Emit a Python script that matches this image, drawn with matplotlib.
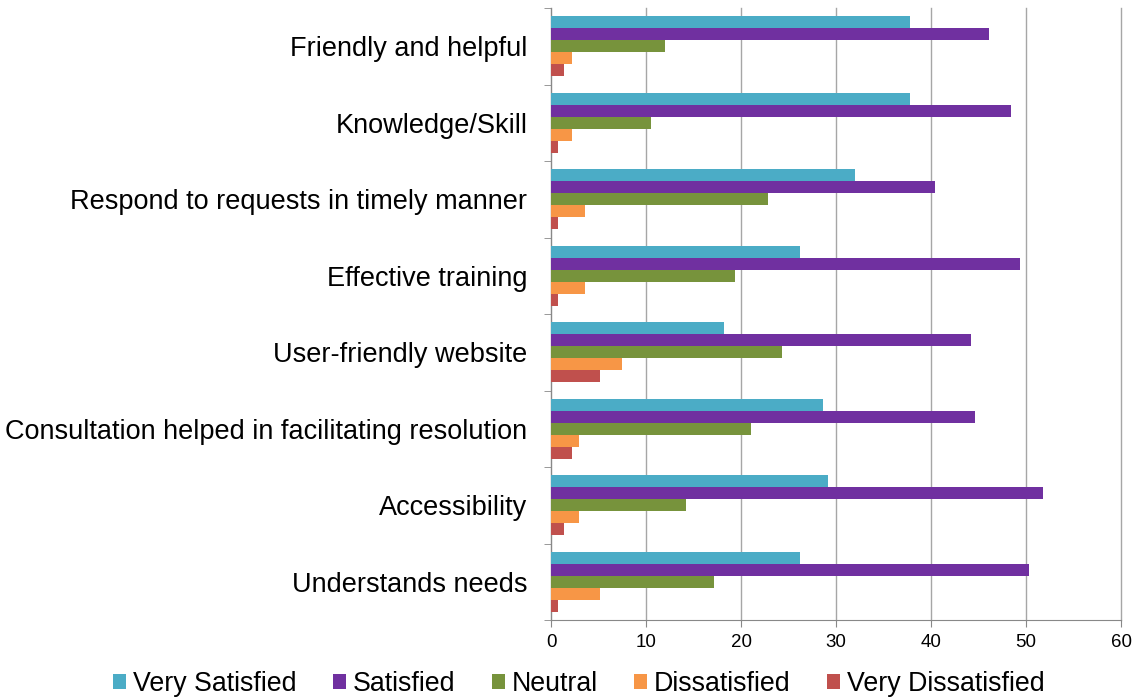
import matplotlib
matplotlib.use("Agg")
import matplotlib.pyplot as plt
import numpy as np

categories = ["Friendly and helpful", "Knowledge/Skill", "Respond to requests in timely manner",
              "Effective training", "User-friendly website",
              "Consultation helped in facilitating resolution", "Accessibility", "Understands needs"]
series_names = ["Very Satisfied", "Satisfied", "Neutral", "Dissatisfied", "Very Dissatisfied"]
very_satisfied = [37.8, 37.8, 32.0, 26.2, 18.2, 28.6, 29.2, 26.2]
satisfied = [46.1, 48.4, 40.4, 49.4, 44.2, 44.6, 51.8, 50.3]
neutral = [12.0, 10.5, 22.8, 19.4, 24.3, 21.1, 14.2, 17.2]
dissatisfied = [2.2, 2.2, 3.6, 3.6, 7.5, 2.9, 2.9, 5.2]
very_dissatisfied = [1.4, 0.7, 0.7, 0.7, 5.2, 2.2, 1.4, 0.7]
colors = ["#4BACC6", "#7030A0", "#77933C", "#F79646", "#C0504D"]
xticks = [0, 10, 20, 30, 40, 50, 60]

plt.rcParams['font.family'] = ['Liberation Sans', 'DejaVu Sans']
fig = plt.figure(figsize=(11.35, 6.98), dpi=100)
ax = fig.add_axes([0.4855, 0.1117, 0.9877 - 0.4855, 0.9885 - 0.1117])

data = [very_satisfied, satisfied, neutral, dissatisfied, very_dissatisfied]
n = len(categories)
group_h = 0.78
bh = group_h / len(data)
y = np.arange(n)
for i, (vals, name, c) in enumerate(zip(data, series_names, colors)):
    pos = y - group_h / 2 + bh / 2 + i * bh
    ax.barh(pos, vals, height=bh, color=c, label=name, zorder=3)

ax.set_ylim(n - 0.5, -0.5)
ax.set_xlim(0, 60)
ax.set_xticks(xticks)
ax.set_xticklabels([str(t) for t in xticks], fontsize=13.5)
ax.set_yticks(y)
ax.set_yticklabels(categories, fontsize=19.5)
ax.tick_params(axis='y', length=0, pad=17)
ax.set_yticks(np.arange(n + 1) - 0.5, minor=True)
ax.tick_params(axis='y', which='minor', length=5, color='#888888')
ax.tick_params(axis='x', length=5, color='#888888', pad=5)
ax.grid(axis='x', color='#A6A6A6', linewidth=1, zorder=0)
for line in ax.get_xgridlines():
    line.set_clip_on(False)
for s in ['top', 'right']:
    ax.spines[s].set_visible(False)
for s in ['left', 'bottom']:
    ax.spines[s].set_color('#888888')

fig.legend(loc='center', bbox_to_anchor=(0.51, 0.02), ncol=5, frameon=False,
           fontsize=19.3, handlelength=0.5, handleheight=0.5, handletextpad=0.25,
           columnspacing=1.35)

fig.savefig("out.png", dpi=100)
